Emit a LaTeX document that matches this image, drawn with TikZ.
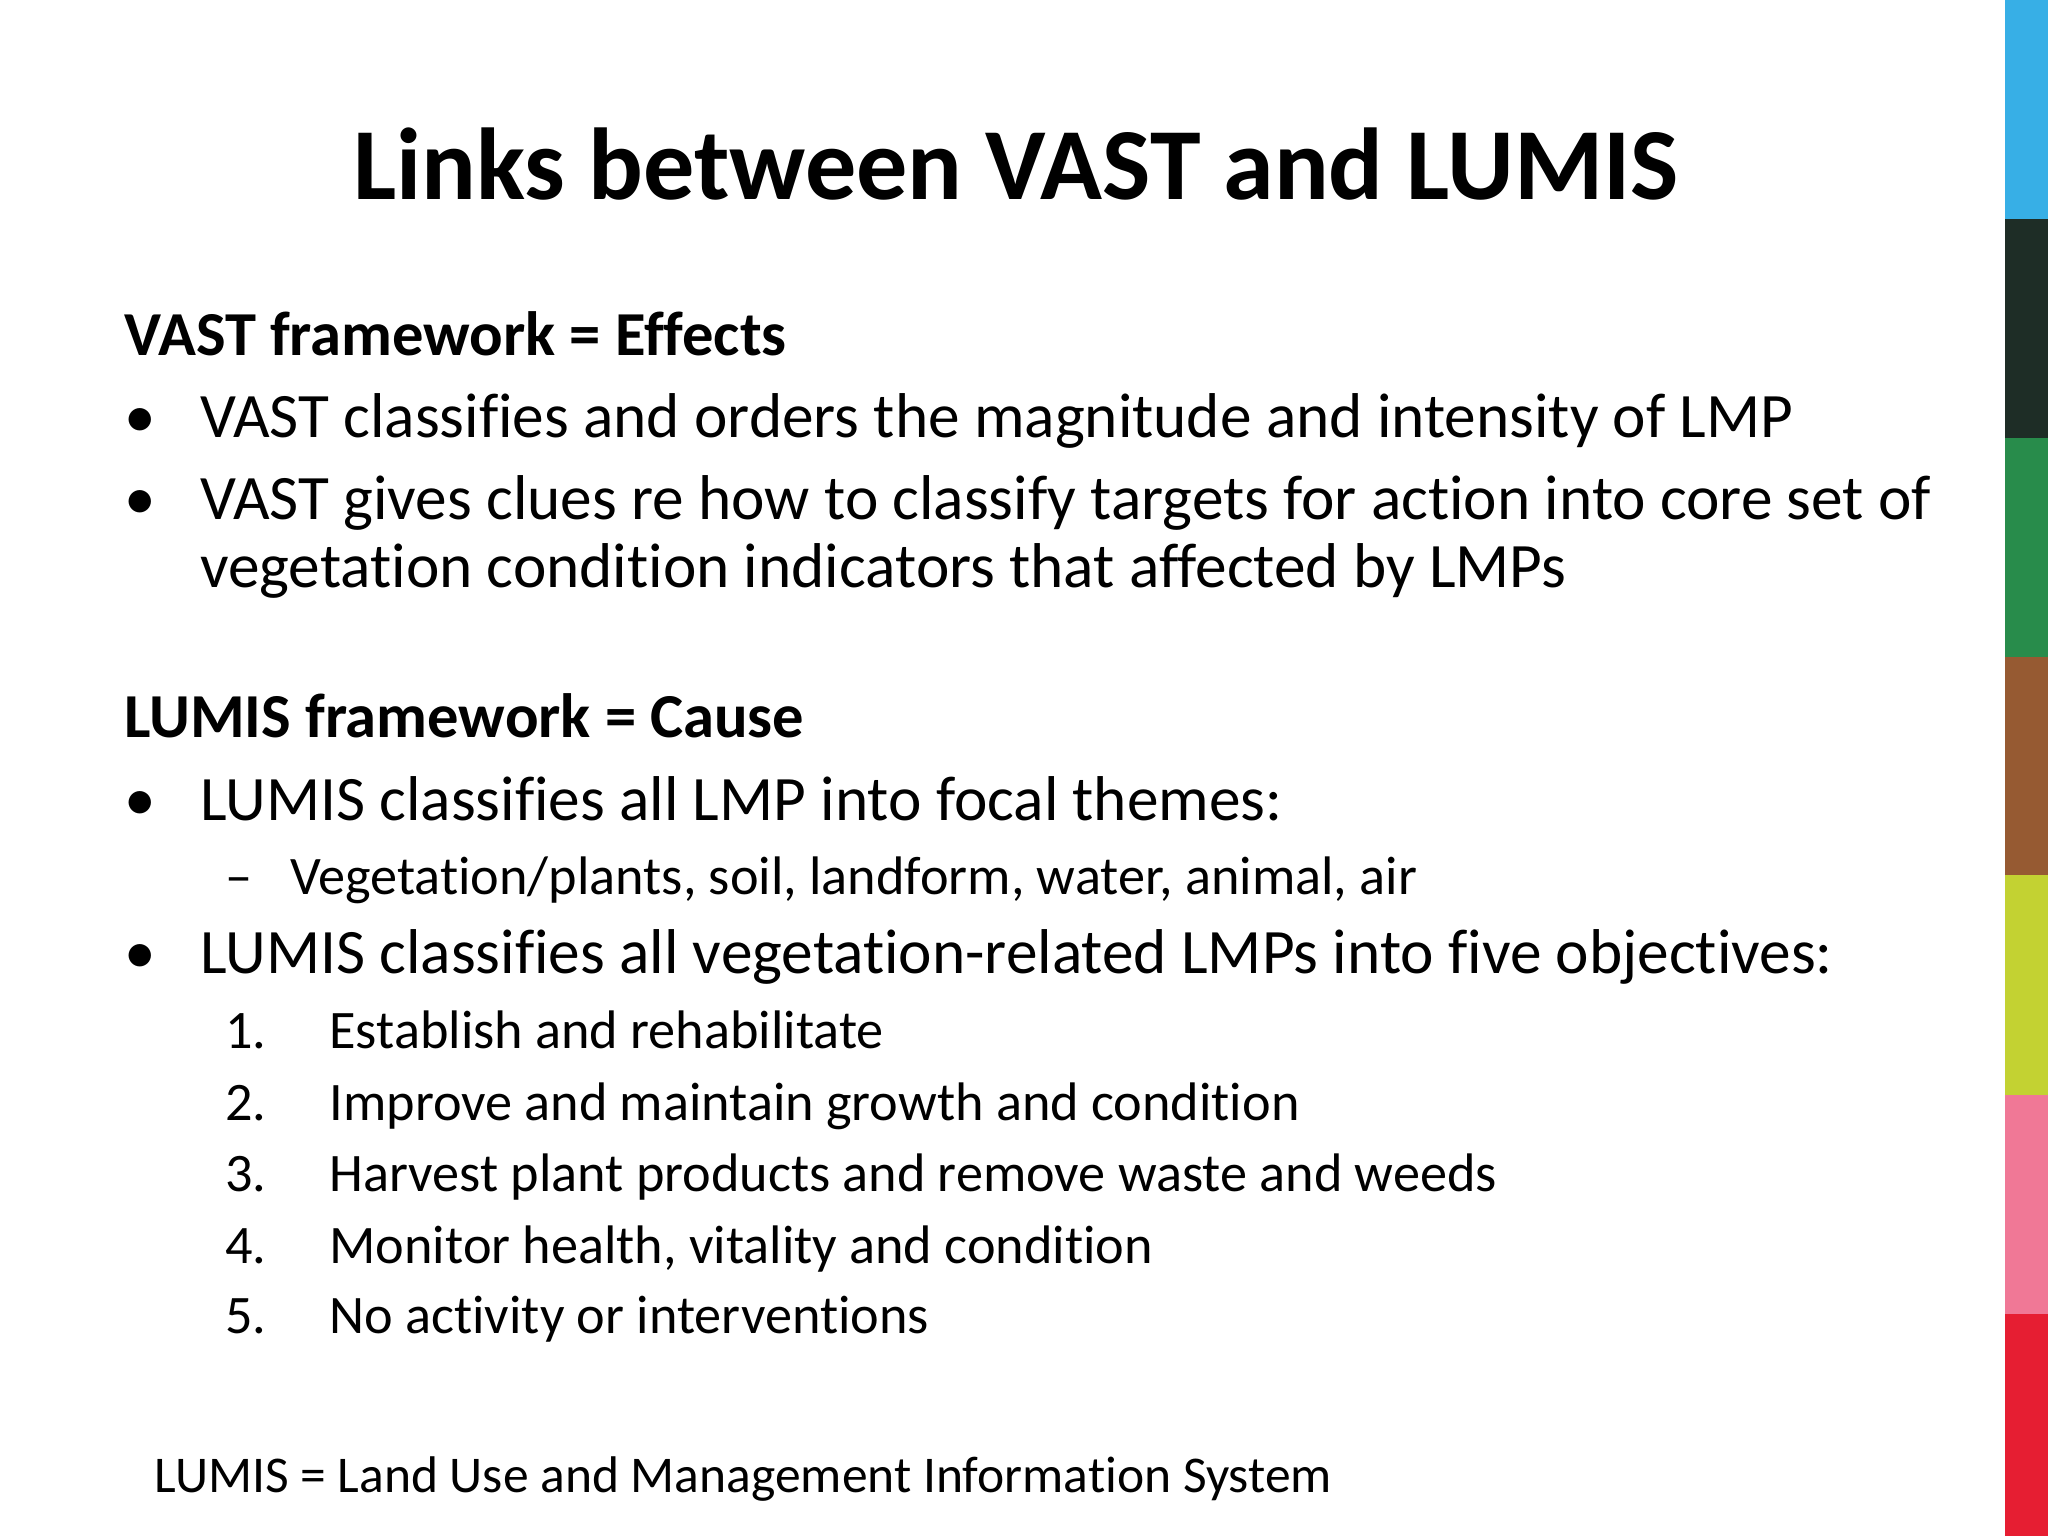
\documentclass[tikz,border=0pt]{standalone}
\usepackage{fontspec}
\setmainfont{Carlito}[RawFeature={-liga;-clig;-dlig}]
\begin{document}
\begin{tikzpicture}[x=0.01in,y=-0.01in,
  tx/.style={anchor=base west,inner sep=0pt,font=\fontsize{35}{39}\selectfont},
  hd/.style={anchor=base west,inner sep=0pt,font=\fontsize{34.6}{38}\selectfont\bfseries},
  sm/.style={anchor=base west,inner sep=0pt,font=\fontsize{30}{34}\selectfont},
  ft/.style={anchor=base west,inner sep=0pt,font=\fontsize{28.5}{32}\selectfont}]
\useasboundingbox (0,0) rectangle (1568,1176);
\fill[white] (0,0) rectangle (1568,1176);
\foreach \c/\a/\b in {{55,175,230}/0/168,{30,45,38}/168/335,{40,140,75}/335/503,{150,90,50}/503/670,{195,210,50}/670/838,{240,120,150}/838/1006,{230,30,50}/1006/1176}{
  \definecolor{cc}{RGB}{\c}\fill[cc] (1535,\a) rectangle (1568,\b);}
\node[anchor=base,inner sep=0pt,font=\fontsize{56.5}{60}\selectfont\bfseries] (title) at (778,153) {Links between VAST and LUMIS};
\node[hd] (h1) at (95,272) {VAST framework = Effects};
\node[tx] (b1d) at (95,335) {•}; \node[tx] (b1) at (153,335) {VAST classifies and orders the magnitude and intensity of LMP};
\node[tx] (b2d) at (95,398) {•}; \node[tx] (b2) at (153,398) {VAST gives clues re how to classify targets for action into core set of};
\node[tx] (b2b) at (153,450) {vegetation condition indicators that affected by LMPs};
\node[hd] (h2) at (95,565) {LUMIS framework = Cause};
\node[tx] (b3d) at (95,628) {•}; \node[tx] (b3) at (153,628) {LUMIS classifies all LMP into focal themes:};
\node[sm] (d1d) at (172,685) {–}; \node[sm] (d1) at (222,685) {Vegetation/plants, soil, landform, water, animal, air};
\node[tx] (b4d) at (95,745) {•}; \node[tx] (b4) at (153,745) {LUMIS classifies all vegetation-related LMPs into five objectives:};
\foreach \n/\y/\t in {1/803/Establish and rehabilitate,2/858/Improve and maintain growth and condition,3/912/Harvest plant products and remove waste and weeds,4/967/{Monitor health, vitality and condition},5/1021/No activity or interventions}{
  \node[sm] (n\n) at (172,\y) {\n.}; \node[sm] (t\n) at (252,\y) {\t};}
\node[ft] (foot) at (118,1143) {LUMIS = Land Use and Management Information System};
\end{tikzpicture}
\end{document}
